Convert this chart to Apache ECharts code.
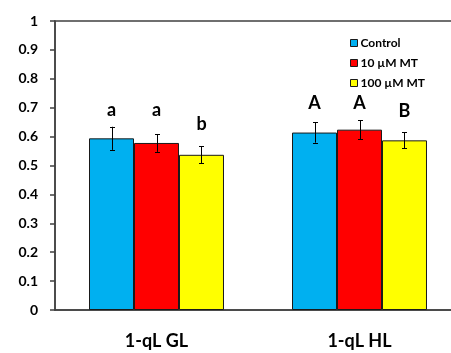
<!DOCTYPE html>
<html>
<head>
<meta charset="utf-8">
<script src="https://cdn.jsdelivr.net/npm/echarts@6/dist/echarts.min.js"></script>
<style>html,body{margin:0;padding:0;background:#fff;overflow:hidden;width:451px;height:353px}#c{width:461px;height:353px}</style>
</head>
<body>
<div id="c"></div>
<script>
var categories = ['1-qL GL', '1-qL HL'];
var seriesNames = ['Control', '10 \u00B5M MT', '100 \u00B5M MT'];
var controlVals = [0.594, 0.614];
var mt10Vals = [0.578, 0.624];
var mt100Vals = [0.537, 0.587];
var controlErr = [0.040, 0.035];
var mt10Err = [0.031, 0.033];
var mt100Err = [0.030, 0.028];
var controlLetters = ['a', 'A'];
var mt10Letters = ['a', 'A'];
var mt100Letters = ['b', 'B'];
var controlLetterY = [0.692, 0.714];
var mt10LetterY = [0.692, 0.714];
var mt100LetterY = [0.644, 0.687];
var yTicks = [0, 0.1, 0.2, 0.3, 0.4, 0.5, 0.6, 0.7, 0.8, 0.9, 1];

var colors = ['#00B0F0', '#FF0000', '#FFFF00'];
var FONT = 'Lato, "Open Sans", sans-serif';
var GAP = 0.335;

var vals = [controlVals, mt10Vals, mt100Vals];
var errs = [controlErr, mt10Err, mt100Err];
var letters = [controlLetters, mt10Letters, mt100Letters];
var letterY = [controlLetterY, mt10LetterY, mt100LetterY];

var series = [];
seriesNames.forEach(function (name, s) {
  series.push({
    name: name,
    type: 'bar',
    data: vals[s],
    barGap: 0,
    barCategoryGap: (GAP * 100) + '%',
    itemStyle: { color: colors[s], borderColor: '#1a1a1a', borderWidth: 1 },
    z: 2
  });
});
seriesNames.forEach(function (name, s) {
  series.push({
    type: 'custom',
    name: name + '_err',
    z: 5,
    silent: true,
    encode: { x: 0, y: 1 },
    data: categories.map(function (c, i) { return [i, vals[s][i], errs[s][i], letterY[s][i]]; }),
    renderItem: function (params, api) {
      var ci = api.value(0), v = api.value(1), e = api.value(2), ly = api.value(3);
      var band = api.size([1, 0])[0];
      var bw = band * (1 - GAP) / 3;
      var cx = api.coord([ci, 0])[0] + (s - 1) * bw;
      var x = Math.round(cx) + 0.5;
      var yt = api.coord([ci, v + e])[1];
      var yb = api.coord([ci, v - e])[1];
      var cap = 2.5;
      var st = { stroke: '#000', lineWidth: 1 };
      var txt = letters[s][params.dataIndex];
      return {
        type: 'group',
        children: [
          { type: 'line', shape: { x1: x, y1: yt, x2: x, y2: yb }, style: st },
          { type: 'line', shape: { x1: x - cap, y1: Math.round(yt) + 0.5, x2: x + cap, y2: Math.round(yt) + 0.5 }, style: st },
          { type: 'line', shape: { x1: x - cap, y1: Math.round(yb) + 0.5, x2: x + cap, y2: Math.round(yb) + 0.5 }, style: st },
          { type: 'text', x: cx, y: api.coord([ci, ly])[1],
            style: { text: txt, fill: '#000', font: 'bold 18px ' + FONT, align: 'center', verticalAlign: 'middle' } }
        ]
      };
    }
  });
});

var chart = echarts.init(document.getElementById('c'), null, { renderer: 'canvas', width: 461, height: 353 });
chart.setOption({
  animation: false,
  backgroundColor: '#fff',
  grid: { left: 55, top: 21, bottom: 43, right: 0, show: true, borderColor: '#404040', borderWidth: 1.5, backgroundColor: 'transparent' },
  legend: {
    data: seriesNames,
    orient: 'vertical',
    left: 345,
    top: 31,
    itemWidth: 7,
    itemHeight: 7,
    itemGap: 6,
    icon: 'rect',
    textStyle: { fontFamily: FONT, fontWeight: 'bold', fontSize: 12, lineHeight: 14, color: '#000', padding: [0, 0, 0, -2] },
    itemStyle: { borderColor: '#1a1a1a', borderWidth: 1 }
  },
  xAxis: {
    type: 'category',
    data: categories,
    axisLine: { show: true, lineStyle: { color: '#404040', width: 1.5 } },
    axisTick: { show: false },
    axisLabel: { margin: 22, fontFamily: FONT, fontWeight: 'bold', fontSize: 18, color: '#000' }
  },
  yAxis: {
    type: 'value',
    min: yTicks[0],
    max: yTicks[yTicks.length - 1],
    interval: 0.1,
    splitLine: { show: false },
    axisLine: { show: true, lineStyle: { color: '#404040', width: 1.5 } },
    axisTick: { show: true, length: 5, lineStyle: { color: '#404040', width: 1.5 } },
    axisLabel: { margin: 17, fontFamily: FONT, fontWeight: 'bold', fontSize: 14, color: '#000',
      formatter: function (v) { return String(Math.round(v * 10) / 10); } }
  },
  series: series
});
</script>
</body>
</html>
